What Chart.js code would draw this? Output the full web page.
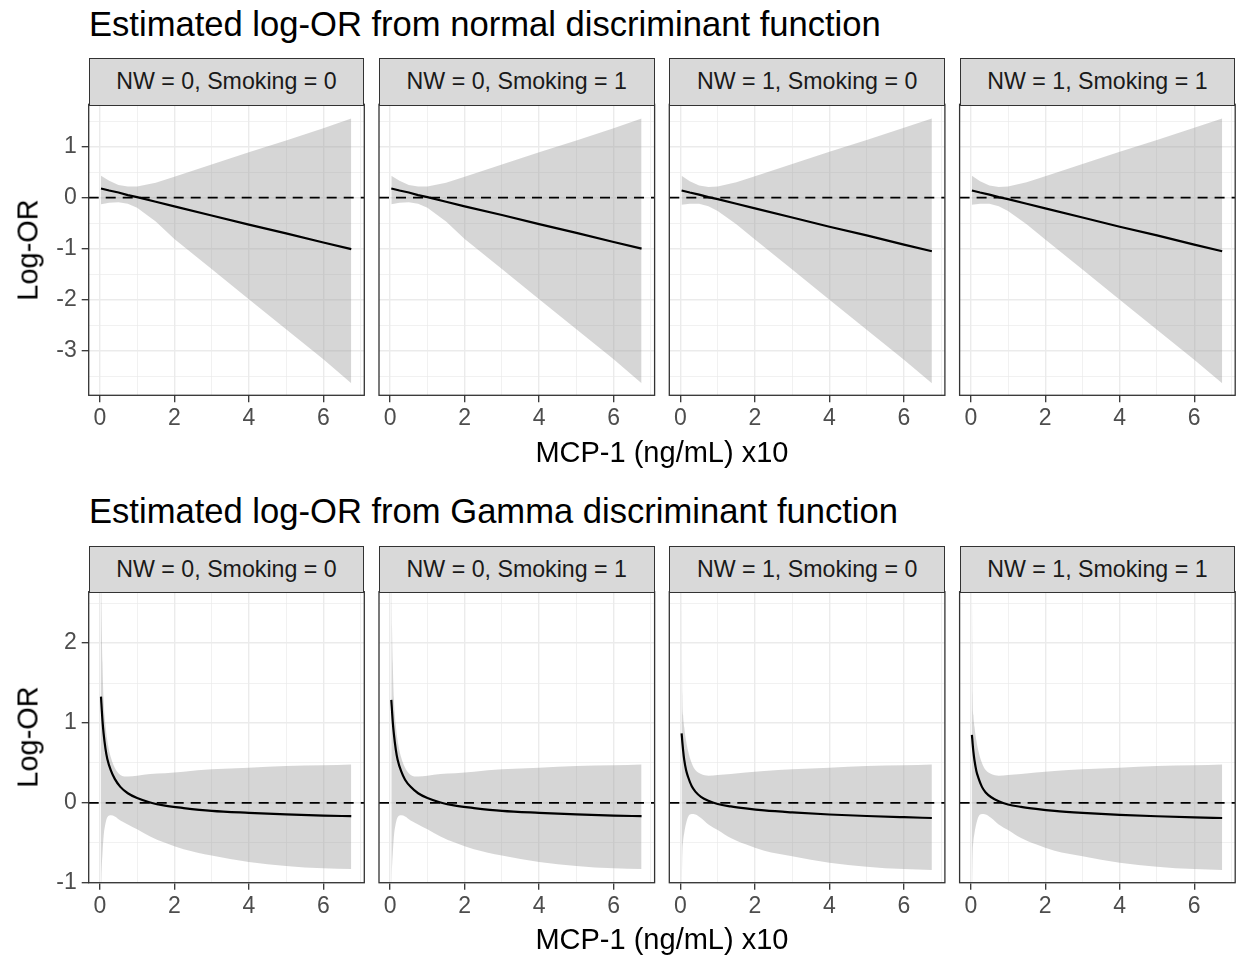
<!DOCTYPE html>
<html><head><meta charset="utf-8">
<script src="https://cdn.jsdelivr.net/npm/chart.js@4/dist/chart.umd.min.js"></script>
<style>
body{margin:0;background:#fff;width:1238px;height:957px;position:relative;overflow:hidden;font-family:"Liberation Sans",Arial,sans-serif;}
.title{position:absolute;font-size:34.6px;line-height:34px;color:#000;white-space:nowrap;}
.strip{position:absolute;background:#D9D9D9;border:1.3px solid #333;box-sizing:border-box;display:flex;align-items:center;justify-content:center;font-size:23.2px;color:#1A1A1A;white-space:nowrap;}
.axt{position:absolute;font-size:29px;line-height:29px;color:#000;white-space:nowrap;}
canvas{position:absolute;}
</style></head><body>
<script>
// ---------- data ----------
const titles = ["Estimated log-OR from normal discriminant function", "Estimated log-OR from Gamma discriminant function"];
const facetLabels = ["NW = 0, Smoking = 0", "NW = 0, Smoking = 1", "NW = 1, Smoking = 0", "NW = 1, Smoking = 1"];
const xTitle = "MCP-1 (ng/mL) x10";
const yTitle = "Log-OR";

const xMajor = [0, 2, 4, 6];
const xMinor = [1, 3, 5, 7];
const xLimits = [-0.30, 7.10];

const yMajorNormal = [-3, -2, -1, 0, 1];
const yMinorNormal = [-3.5, -2.5, -1.5, -0.5, 0.5, 1.5];
const yLimitsNormal = [-3.875, 1.83];
const yMajorGamma = [-1, 0, 1, 2];
const yMinorGamma = [-0.5, 0.5, 1.5, 2.5];
const yLimitsGamma = [-1.0, 2.644];
const refLineY = [0];

// normal discriminant (top row)
const xNormal = [0.03, 0.25, 0.5, 0.75, 1.0, 1.5, 2, 3, 4, 5, 6, 6.75];
const fitN1 = [0.18, 0.14, 0.10, 0.05, 0.01, -0.08, -0.17, -0.35, -0.53, -0.70, -0.88, -1.01];
const upN1  = [0.43, 0.33, 0.25, 0.22, 0.22, 0.29, 0.41, 0.65, 0.89, 1.12, 1.36, 1.55];
const loN1  = [-0.13, -0.10, -0.09, -0.12, -0.20, -0.47, -0.81, -1.40, -1.99, -2.58, -3.17, -3.64];
const fitN2 = [0.18, 0.14, 0.10, 0.05, 0.01, -0.08, -0.17, -0.34, -0.52, -0.69, -0.87, -1.00];
const upN2  = [0.43, 0.33, 0.25, 0.22, 0.22, 0.29, 0.41, 0.65, 0.89, 1.12, 1.36, 1.55];
const loN2  = [-0.13, -0.10, -0.09, -0.12, -0.20, -0.47, -0.81, -1.40, -1.99, -2.58, -3.17, -3.64];
const fitN3 = [0.14, 0.10, 0.06, 0.01, -0.03, -0.12, -0.21, -0.39, -0.57, -0.74, -0.92, -1.05];
const upN3  = [0.43, 0.32, 0.24, 0.21, 0.22, 0.30, 0.42, 0.66, 0.90, 1.13, 1.37, 1.55];
const loN3  = [-0.14, -0.12, -0.12, -0.17, -0.26, -0.52, -0.82, -1.41, -2.00, -2.59, -3.18, -3.64];
const fitN4 = [0.14, 0.10, 0.06, 0.01, -0.03, -0.12, -0.21, -0.39, -0.57, -0.74, -0.92, -1.05];
const upN4  = [0.43, 0.32, 0.24, 0.21, 0.22, 0.30, 0.42, 0.66, 0.90, 1.13, 1.37, 1.55];
const loN4  = [-0.14, -0.12, -0.12, -0.17, -0.26, -0.52, -0.82, -1.41, -2.00, -2.59, -3.18, -3.64];

// Gamma discriminant (bottom row)
const xGamma = [0.03, 0.04, 0.05, 0.07, 0.1, 0.15, 0.2, 0.3, 0.4, 0.55, 0.75, 1.0, 1.35, 1.75, 2.25, 3, 4, 5, 6, 6.75];
const fitG1 = [1.33, 1.25, 1.17, 1.03, 0.87, 0.68, 0.55, 0.40, 0.30, 0.20, 0.12, 0.06, 0.005, -0.035, -0.065, -0.10, -0.125, -0.145, -0.16, -0.167];
const upG1  = [3.0, 2.6, 2.2, 1.75, 1.3, 0.98, 0.78, 0.56, 0.44, 0.35, 0.33, 0.34, 0.36, 0.37, 0.39, 0.42, 0.44, 0.46, 0.47, 0.48];
const loG1  = [-1.3, -0.95, -0.8, -0.63, -0.42, -0.26, -0.18, -0.155, -0.17, -0.22, -0.27, -0.33, -0.42, -0.50, -0.58, -0.66, -0.74, -0.79, -0.82, -0.83];
const fitG2 = [1.29, 1.22, 1.15, 1.01, 0.86, 0.67, 0.54, 0.39, 0.29, 0.20, 0.12, 0.06, 0.005, -0.035, -0.065, -0.10, -0.125, -0.145, -0.16, -0.167];
const upG2  = [3.0, 2.6, 2.2, 1.75, 1.3, 0.98, 0.78, 0.56, 0.44, 0.35, 0.33, 0.34, 0.36, 0.37, 0.39, 0.42, 0.44, 0.46, 0.47, 0.48];
const loG2  = [-1.3, -0.95, -0.8, -0.63, -0.42, -0.26, -0.18, -0.155, -0.17, -0.22, -0.27, -0.33, -0.42, -0.50, -0.58, -0.66, -0.74, -0.79, -0.82, -0.83];
const fitG3 = [0.87, 0.82, 0.76, 0.66, 0.54, 0.41, 0.33, 0.21, 0.14, 0.075, 0.025, -0.015, -0.045, -0.07, -0.095, -0.12, -0.146, -0.165, -0.18, -0.19];
const upG3  = [3.0, 2.0, 1.35, 1.1, 0.95, 0.78, 0.66, 0.5, 0.41, 0.36, 0.34, 0.35, 0.36, 0.38, 0.40, 0.42, 0.44, 0.46, 0.47, 0.48];
const loG3  = [-1.3, -0.9, -0.63, -0.48, -0.38, -0.26, -0.18, -0.14, -0.145, -0.19, -0.27, -0.34, -0.44, -0.52, -0.60, -0.67, -0.75, -0.80, -0.83, -0.84];
const fitG4 = [0.85, 0.80, 0.74, 0.64, 0.53, 0.40, 0.32, 0.20, 0.13, 0.07, 0.02, -0.02, -0.05, -0.075, -0.10, -0.125, -0.15, -0.168, -0.182, -0.19];
const upG4  = [3.0, 2.0, 1.35, 1.1, 0.95, 0.78, 0.66, 0.5, 0.41, 0.36, 0.34, 0.35, 0.36, 0.38, 0.40, 0.42, 0.44, 0.46, 0.47, 0.48];
const loG4  = [-1.3, -0.9, -0.63, -0.48, -0.38, -0.26, -0.18, -0.14, -0.145, -0.19, -0.27, -0.34, -0.44, -0.52, -0.60, -0.67, -0.75, -0.80, -0.83, -0.84];

// ---------- layout ----------
const FIRST_LEFT = 88.7, PANEL_STEP = 290.3, PANEL_W = 275.6, STRIP_H = 46;
const rows = [
  {title: titles[0], titleTop: 7, plotTop: 104.3, plotBottom: 395.3, xTitleTop: 438,
   x: xNormal, fits: [fitN1, fitN2, fitN3, fitN4], ups: [upN1, upN2, upN3, upN4], los: [loN1, loN2, loN3, loN4],
   yMajor: yMajorNormal, yMinor: yMinorNormal, yLim: yLimitsNormal, tension: 0},
  {title: titles[1], titleTop: 494.4, plotTop: 591.7, plotBottom: 882.7, xTitleTop: 925.4,
   x: xGamma, fits: [fitG1, fitG2, fitG3, fitG4], ups: [upG1, upG2, upG3, upG4], los: [loG1, loG2, loG3, loG4],
   yMajor: yMajorGamma, yMinor: yMinorGamma, yLim: yLimitsGamma, tension: 1}
];

Chart.defaults.font.family = '"Liberation Sans", Arial, sans-serif';

const borderPlugin = {
  id: 'panelBorder',
  afterDatasetsDraw(chart) {
    const {ctx, chartArea: a} = chart;
    ctx.save();
    ctx.strokeStyle = '#333333';
    ctx.lineWidth = 1.3;
    ctx.strokeRect(a.left, a.top, a.right - a.left, a.bottom - a.top);
    ctx.restore();
  }
};

function el(cls, text, style) {
  const d = document.createElement('div');
  d.className = cls;
  d.textContent = text;
  Object.assign(d.style, style);
  document.body.appendChild(d);
  return d;
}
function zeroPad(s) { s.paddingLeft = 0; s.paddingRight = 0; s.paddingTop = 0; s.paddingBottom = 0; }

const xTicksAll = xMajor.concat(xMinor).sort((a, b) => a - b);

rows.forEach((row) => {
  el('title', row.title, {left: '89px', top: row.titleTop + 'px'});
  const yTicksAll = row.yMajor.concat(row.yMinor).sort((a, b) => a - b);
  for (let p = 0; p < 4; p++) {
    const pl = FIRST_LEFT + p * PANEL_STEP;
    const canvasLeft = Math.floor(pl) - 62;
    const W = pl - canvasLeft;
    const canvasTop = Math.floor(row.plotTop) - 3;
    const padTop = row.plotTop - canvasTop;
    const canvasW = Math.ceil(W + PANEL_W + 4);
    const padRight = canvasW - (W + PANEL_W);
    const canvasH = Math.ceil(row.plotBottom - canvasTop + 42);
    const xAxisH = canvasH - (row.plotBottom - canvasTop);

    const cv = document.createElement('canvas');
    cv.width = canvasW; cv.height = canvasH;
    cv.style.left = canvasLeft + 'px'; cv.style.top = canvasTop + 'px';
    cv.style.width = canvasW + 'px'; cv.style.height = canvasH + 'px';
    document.body.appendChild(cv);

    const xs = row.x;
    const pts = arr => xs.map((x, i) => ({x: x, y: arr[i]}));
    const interp = row.tension ? {cubicInterpolationMode: 'monotone'} : {tension: 0};

    new Chart(cv, {
      type: 'line',
      data: {
        datasets: [
          // drawn last (on top)
          Object.assign({data: pts(row.fits[p]), fill: false, borderColor: '#000', borderWidth: 2.2, pointRadius: 0, clip: 0}, interp),
          {data: [{x: xLimits[0], y: refLineY[0]}, {x: xLimits[1], y: refLineY[0]}], fill: false, borderColor: '#000', borderWidth: 1.6, borderDash: [10, 7], pointRadius: 0, clip: 0},
          Object.assign({data: pts(row.ups[p]), fill: '+1', backgroundColor: 'rgba(153,153,153,0.4)', borderWidth: 0, borderColor: 'rgba(0,0,0,0)', pointRadius: 0, clip: 0}, interp),
          Object.assign({data: pts(row.los[p]), fill: false, borderWidth: 0, borderColor: 'rgba(0,0,0,0)', pointRadius: 0, clip: 0}, interp)
        ]
      },
      options: {
        responsive: false, animation: false, devicePixelRatio: 1, events: [],
        layout: {padding: {left: 0, top: padTop, right: padRight, bottom: 0}},
        plugins: {legend: {display: false}, tooltip: {enabled: false}, title: {display: false}},
        scales: {
          x: {
            type: 'linear', min: xLimits[0], max: xLimits[1],
            afterBuildTicks: s => { s.ticks = xTicksAll.map(v => ({value: v})); },
            afterFit: s => { s.height = xAxisH; zeroPad(s); },
            ticks: {autoSkip: false, maxRotation: 0, padding: 3, color: '#4D4D4D', font: {size: 23},
                    callback: v => xMajor.includes(v) ? String(v) : ''},
            grid: {color: '#EBEBEB', lineWidth: c => (c.tick && xMajor.includes(c.tick.value)) ? 1.4 : 0.7,
                   drawTicks: true, tickLength: 7, tickWidth: 1.3,
                   tickColor: c => (c.tick && xMajor.includes(c.tick.value)) ? '#333333' : 'rgba(0,0,0,0)'},
            border: {display: false}
          },
          y: {
            type: 'linear', min: row.yLim[0], max: row.yLim[1],
            afterBuildTicks: s => { s.ticks = yTicksAll.map(v => ({value: v})); },
            afterFit: s => { s.width = W; zeroPad(s); },
            ticks: {display: p === 0, autoSkip: false, padding: 5, color: '#4D4D4D', font: {size: 23},
                    callback: v => row.yMajor.includes(v) ? String(v) : ''},
            grid: {color: '#EBEBEB', lineWidth: c => (c.tick && row.yMajor.includes(c.tick.value)) ? 1.4 : 0.7,
                   drawTicks: p === 0, tickLength: 7, tickWidth: 1.3,
                   tickColor: c => (c.tick && row.yMajor.includes(c.tick.value)) ? '#333333' : 'rgba(0,0,0,0)'},
            border: {display: false}
          }
        }
      },
      plugins: [borderPlugin]
    });

    el('strip', facetLabels[p], {left: pl + 'px', top: (row.plotTop - STRIP_H) + 'px', width: PANEL_W + 'px', height: (STRIP_H + 1.3) + 'px'});
  }
  // axis titles
  const xCenter = FIRST_LEFT + (3 * PANEL_STEP + PANEL_W) / 2;
  el('axt', xTitle, {left: xCenter + 'px', top: row.xTitleTop + 'px', transform: 'translateX(-50%)'});
  const yCenter = (row.plotTop + row.plotBottom) / 2;
  el('axt', yTitle, {left: '27.5px', top: yCenter + 'px', transform: 'translate(-50%,-50%) rotate(-90deg)'});
});
</script>
</body></html>
